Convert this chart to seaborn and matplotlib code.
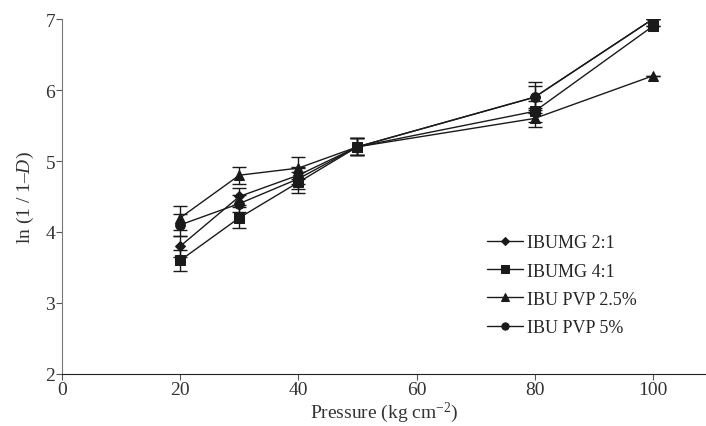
import numpy as np
import pandas as pd
import seaborn as sns
from matplotlib import pyplot as plt

pressure = [20, 30, 40, 50, 80, 100]
series_names = ["IBUMG 2:1", "IBUMG 4:1", "IBU PVP 2.5%", "IBU PVP 5%"]
ibumg_21 = [3.8, 4.5, 4.8, 5.2, 5.9, 7.0]
ibumg_41 = [3.6, 4.2, 4.7, 5.2, 5.7, 6.9]
ibu_pvp_25 = [4.2, 4.8, 4.9, 5.2, 5.6, 6.2]
ibu_pvp_5 = [4.1, 4.4, 4.75, 5.2, 5.9, 7.0]
err_21 = [0.15, 0.12, 0.12, 0.12, 0.15, 0.0]
err_41 = [0.15, 0.15, 0.15, 0.12, 0.15, 0.0]
err_25 = [0.17, 0.12, 0.15, 0.12, 0.12, 0.0]
err_5 = [0.15, 0.12, 0.15, 0.12, 0.22, 0.0]

values = [ibumg_21, ibumg_41, ibu_pvp_25, ibu_pvp_5]
errors = [err_21, err_41, err_25, err_5]
markers = ["D", "s", "^", "o"]
msizes = [5, 7, 7, 7]

df = pd.DataFrame({
    "pressure": pressure * 4,
    "value": sum(values, []),
    "err": sum(errors, []),
    "series": [n for n in series_names for _ in pressure],
})

sns.set_style("ticks")
plt.rcParams["font.family"] = ["Liberation Serif", "DejaVu Serif"]
plt.rcParams["mathtext.fontset"] = "custom"
plt.rcParams["mathtext.it"] = "Liberation Serif:italic"
plt.rcParams["mathtext.rm"] = "Liberation Serif"

fig = plt.figure(figsize=(7.06, 4.27), dpi=100)
ax = fig.add_axes([0.088, 0.122, 0.912, 0.831])

for name, m, ms in zip(series_names, markers, msizes):
    sub = df[df["series"] == name]
    sns.lineplot(data=sub, x="pressure", y="value", ax=ax, color="#1a1a1a",
                 marker=m, markersize=ms, markeredgecolor="#1a1a1a",
                 linewidth=1.0, label=name, errorbar=None)
    ax.errorbar(sub["pressure"], sub["value"], yerr=sub["err"], fmt="none",
                ecolor="#1a1a1a", elinewidth=1, capsize=5, capthick=1)

ax.set_xlim(0, 109)
ax.set_ylim(2, 7)
ax.set_xticks([0, 20, 40, 60, 80, 100])
ax.set_yticks([2, 3, 4, 5, 6, 7])
ax.tick_params(labelsize=14, length=4, pad=1, color="#555555", colors="#333333")
ax.set_xlabel("Pressure (kg cm$^{-2}$)", fontsize=14, color="#333333", labelpad=1)
ax.set_ylabel("ln (1 / 1\u2013$\\it{D}$)", fontsize=14, color="#333333", labelpad=7)
sns.despine(ax=ax)
ax.spines["left"].set_color("#777777")
ax.spines["bottom"].set_color("#222222")

ax.legend(loc="center left", bbox_to_anchor=(0.66, 0.25), frameon=False,
          fontsize=13, handlelength=2.0, handletextpad=0.2, labelspacing=0.62,
          markerscale=0.75, borderpad=0, borderaxespad=0)

fig.savefig("out.png", dpi=100)
